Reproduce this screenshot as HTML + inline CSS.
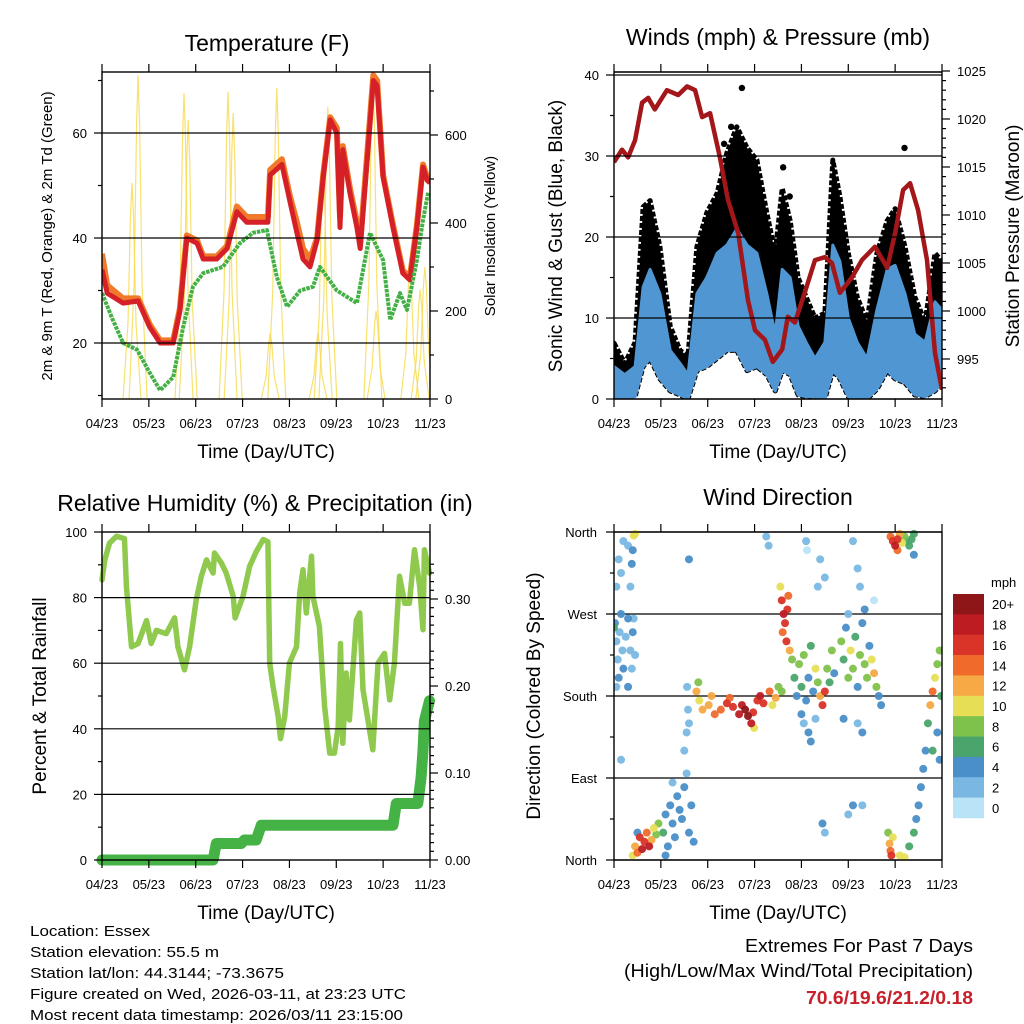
<!DOCTYPE html>
<html><head><meta charset="utf-8"><style>
html,body{margin:0;padding:0;background:#fff;}
svg{display:block;font-family:"Liberation Sans",Arial,sans-serif;}
</style></head><body>
<svg id="root" width="1024" height="1024" viewBox="0 0 1024 1024" xmlns="http://www.w3.org/2000/svg">
<rect width="1024" height="1024" fill="#fff"/>
<g id="p1"></g>
<g id="p2"></g>
<g id="p3"></g>
<g id="p4"></g>
<g font-size="15" fill="#000">
<text x="30" y="936" textLength="120" lengthAdjust="spacingAndGlyphs">Location: Essex</text>
<text x="30" y="957" textLength="189" lengthAdjust="spacingAndGlyphs">Station elevation: 55.5 m</text>
<text x="30" y="978" textLength="254" lengthAdjust="spacingAndGlyphs">Station lat/lon: 44.3144; -73.3675</text>
<text x="30" y="999" textLength="376" lengthAdjust="spacingAndGlyphs">Figure created on Wed, 2026-03-11, at 23:23 UTC</text>
<text x="30" y="1020" textLength="373" lengthAdjust="spacingAndGlyphs">Most recent data timestamp: 2026/03/11 23:15:00</text>
</g>
<g font-size="18">
<text x="745" y="952" textLength="228" lengthAdjust="spacingAndGlyphs">Extremes For Past 7 Days</text>
<text x="624" y="977" textLength="349" lengthAdjust="spacingAndGlyphs">(High/Low/Max Wind/Total Precipitation)</text>
<text x="806" y="1004" textLength="167" lengthAdjust="spacingAndGlyphs" font-weight="bold" fill="#c8202a">70.6/19.6/21.2/0.18</text>
</g>
</svg>
<script>
const NS="http://www.w3.org/2000/svg";
// ---------- shared time axis ----------
const monthLabels=["04/23","05/23","06/23","07/23","08/23","09/23","10/23","11/23"];
const monthTicks=[0,1,2,3,4,5,6,7];
// ---------- temperature data ----------
const tempT=[0,0.11,0.45,0.77,1.02,1.24,1.52,1.66,1.81,2.03,2.16,2.45,2.67,2.88,3.09,3.31,3.54,3.59,3.84,4.01,4.16,4.29,4.44,4.59,4.72,4.87,5.01,5.08,5.14,5.29,5.44,5.51,5.66,5.79,5.87,6.0,6.21,6.42,6.57,6.72,6.85,6.94,7.0];
const tempRed=[34,29.5,27.6,28,23,20,20,26,40,39,36,36,38,45,43,43,43,52,54,47,41,36,34.5,39.6,51.6,62.5,60,42,56.8,48.6,42,38,55,70,69,51.6,42,33.3,32,42,53.5,51,50.5];
const tempOrange=[37,31,28.5,28.5,23.5,20.5,20.5,26.5,40.5,39.5,36.5,36.5,38.5,46,44,44,44,53,55,48,43,38,36,40,52,63,61,44,57.5,49.5,43,39,56,71,70,52,42.5,33.8,32.5,42.5,54,51.5,51];
const dewT=[0,0.23,0.45,0.75,1.02,1.24,1.52,1.73,1.94,2.16,2.58,2.94,3.22,3.52,3.73,3.95,4.23,4.5,4.65,5.01,5.44,5.72,6.0,6.15,6.36,6.51,6.72,6.85,6.96];
const dewV=[29.5,24.4,20,18.7,14.3,11,13.5,23,30.7,33.3,34.5,39,41,41.5,32.6,26.9,30,30.7,34.5,30,27.6,41,35.8,24.4,29.5,26.3,35.8,43.4,48.6];
const solarT=[0.64,0.77,1.75,1.84,2.69,2.80,3.59,3.73,4.61,4.72,4.82,5.78,5.85,6.57,6.79,6.89];
const solarPeak=[491,736,695,634,698,650,150,707,150,540,664,741,200,300,248,300];
const tempTicks=[20,40,60];
const solarTicks=[0,200,400,600];
// ---------- wind data ----------
const presT=[0,0.17,0.30,0.45,0.60,0.73,0.87,1.13,1.37,1.56,1.73,1.88,2.05,2.26,2.43,2.65,2.86,3.01,3.22,3.39,3.59,3.71,3.86,4.07,4.29,4.50,4.65,4.82,5.08,5.29,5.57,5.83,6.00,6.17,6.32,6.49,6.68,6.85,7.0];
const presV=[1015.5,1016.8,1016,1017.8,1021.7,1022.2,1021,1023,1022.5,1023.4,1023,1020.2,1020.6,1016,1011.6,1008.1,1001.1,998,997,994.7,996,999.4,998.8,1001.9,1005.3,1005.6,1005,1001.9,1003.5,1005.3,1006.7,1004.5,1008.1,1012.6,1013.3,1010.5,1005.3,995.6,991.8];
const windT=[0,0.23,0.45,0.62,0.77,0.98,1.20,1.41,1.58,1.77,1.98,2.20,2.41,2.62,2.84,3.05,3.26,3.44,3.59,3.76,3.93,4.10,4.29,4.50,4.67,4.82,5.00,5.19,5.40,5.61,5.83,6.00,6.21,6.42,6.64,6.85,7.0];
const gustHi=[6.9,4.4,7,23.7,24.5,18.8,9,6,5.3,18.8,23,25.4,30.4,33.6,31,29.5,23,18,26,22,15,12.6,10,10.6,29.5,25,18,12.6,9.5,18,22,23.5,18.8,12.6,9.5,18,17];
const windHi=[4,3,4,13.8,16,13,6,4.4,3,13,15,18,19,21,19,18,13,8,16,15,9,7,5,7,19,17,10,7,5,11,16,16.5,13,8,7,12,11];
const windLo=[0.3,0,0.3,4,5,2.5,1,0.5,0,3.5,4,5,6,6,3.5,4,3,1,3.5,3,0.5,0.3,0.3,0,3.5,2.5,0.3,0,0,1.2,3.5,2.5,2,0.5,0.3,1,2];
const gustOutT=[2.73,2.50,3.61,6.20,3.75,2.35];
const gustOutV=[38.4,33.6,28.6,31,25,31.5];
const windTicks=[0,10,20,30,40];
const presTicks=[995,1000,1005,1010,1015,1020,1025];
// ---------- humidity data ----------
const rhT=[0,0.06,0.16,0.31,0.48,0.52,0.63,0.77,0.95,1.05,1.16,1.37,1.55,1.62,1.76,1.87,2.01,2.12,2.23,2.37,2.40,2.55,2.65,2.80,2.84,3.01,3.15,3.29,3.44,3.54,3.58,3.65,3.76,3.81,3.90,4.00,4.15,4.22,4.29,4.36,4.47,4.50,4.64,4.75,4.86,4.96,5.04,5.09,5.14,5.21,5.28,5.43,5.50,5.57,5.78,5.89,6.03,6.14,6.24,6.35,6.46,6.56,6.67,6.78,6.85,6.88,6.99];
const rhV=[85.4,91.5,96.6,98.7,98,83.4,65,66,73,66,70,69,73.8,65,58,65,79.3,86.5,91.5,87.5,93.6,90.5,87.5,80.4,73.8,80.4,89.5,94,97.7,97,60,53,43.7,37,43.7,60,65,81.4,88.5,75.3,92.6,80.4,71.2,46.8,32.6,32.6,40.7,66,35.6,57,42.7,73.2,75.3,51.9,33.6,60,63,48.8,60,86.5,78.3,78.3,94.6,83.4,70.2,94.6,87.5];
const rainT=[0,2.37,2.44,2.97,3.04,3.29,3.40,6.21,6.28,6.74,6.81,6.85,6.88,6.99];
const rainV=[0,0,0.019,0.019,0.023,0.023,0.040,0.040,0.065,0.065,0.095,0.126,0.160,0.183];
const rhTicks=[0,20,40,60,80,100];
const rainTicks=[0,0.1,0.2,0.3];
// ---------- wind direction data ----------
const dirT=[0.02,0.05,0.08,0.1,0.12,0.15,0.18,0.2,0.25,0.3,0.35,0.38,0.4,0.45,0.05,0.3,0.42,0.0,
0.1,0.15,0.3,0.35,0.38,0.4,0.42,0.45,0.05,0.2,
0.45,0.5,0.55,0.6,0.65,0.7,0.75,0.8,0.85,0.9,0.5,0.4,0.95,
1.05,1.1,1.15,1.2,1.25,1.3,1.35,1.4,1.45,1.5,1.55,1.6,1.65,1.7,1.1,1.25,1.5,1.55,1.58,1.6,1.56,
1.76,1.82,1.89,2.02,2.15,2.28,2.41,2.54,2.67,2.73,2.80,2.86,2.93,2.99,3.06,3.12,3.19,3.32,3.45,3.51,3.58,1.80,2.08,2.47,2.97,3.38,
3.55,3.58,3.62,3.65,3.6,3.7,3.68,3.75,3.8,3.72,
3.85,3.9,3.95,4.0,4.05,4.1,4.15,4.2,4.25,4.3,4.35,4.4,4.45,4.5,4.55,4.6,4.65,4.7,4.05,4.15,4.3,4.0,4.2,
4.85,4.9,4.95,5.0,5.05,5.1,5.15,5.2,5.25,5.3,5.35,5.4,5.45,5.5,5.55,5.6,5.65,5.7,5.2,5.3,4.9,5.0,5.35,
3.25,3.3,4.1,4.12,4.4,4.5,4.35,5.1,5.2,5.25,5.55,5.0,5.1,4.45,4.5,5.3,0.15,1.6,
5.9,5.95,6.0,6.05,6.1,6.15,6.2,6.25,6.3,6.35,6.4,6.05,6.4,
5.85,5.88,5.9,5.92,5.95,
6.1,6.2,6.3,6.4,6.45,6.5,6.55,6.6,6.65,6.7,6.75,6.8,6.85,6.9,6.95,6.98,6.9,6.8,6.95];
const dirV=[260,240,220,200,250,270,230,210,245,265,230,210,250,225,190,190,265,255,
330,315,345,300,325,340,356,358,300,350,
15,8,25,12,20,30,15,22,35,28,30,5,40,
30,50,15,60,40,25,70,55,45,80,95,30,60,20,5,85,120,140,165,150,190,
185,175,165,170,160,165,172,168,160,170,165,158,150,145,175,180,172,185,178,190,185,195,180,178,162,170,
300,285,270,260,250,275,240,230,220,290,
200,180,215,190,225,175,200,235,185,210,195,180,170,185,210,195,230,205,150,140,155,160,130,
240,220,255,200,230,210,245,190,225,260,215,200,235,220,205,190,180,170,150,140,155,270,275,
355,345,350,340,330,310,300,350,320,300,285,50,60,40,30,60,110,330,
355,350,345,352,358,348,355,350,345,352,358,340,335,
30,18,10,5,25,
5,3,15,30,45,60,80,100,120,150,170,185,200,215,230,180,140,120,110];
const dirS=[3,2,2,3,2,4,2,3,2,3,2,2,4,2,2,3,2,6,
1,1,2,2,4,3,9,10,1,1,
12,14,16,18,16,14,18,12,10,8,4,10,7,
6,4,4,3,4,3,3,4,3,4,2,4,4,4,3,2,2,2,2,2,1,
12,10,11,12,13,14,15,16,17,18,20,19,18,10,16,17,16,14,12,8,7,8,11,14,15,10,
10,16,18,16,14,16,15,12,8,14,
6,4,8,6,7,3,4,6,3,9,8,12,15,16,7,6,8,4,2,3,2,4,4,
8,6,4,8,10,7,6,4,7,4,7,8,3,10,12,7,4,4,2,4,3,2,3,
1,2,1,0,2,2,1,2,2,1,0,2,4,4,2,2,1,4,
14,16,18,16,12,10,8,6,6,6,5,14,4,
8,12,14,16,10,
10,10,6,6,4,4,4,3,4,6,12,14,10,8,8,6,4,6,4];
const speedColors=["#b9e3f7","#7ab8e3","#4a8fc8","#4aa56c","#7fc24b","#e6df56","#f6a945","#ef6a2b","#da3327","#bd1c22","#8e1518"];
const speedLabels=["0","2","4","6","8","10","12","14","16","18","20+"];
const dirTicks=[0,90,180,270,360];
const dirLabels=["North","East","South","West","North"];

// ---------- helpers ----------
function el(tag,attrs,parent){const e=document.createElementNS(NS,tag);for(const k in attrs)e.setAttribute(k,attrs[k]);parent.appendChild(e);return e;}
function txt(s,attrs,parent){const e=el("text",attrs,parent);e.textContent=s;return e;}
function mkX(x0,x1){return t=>x0+t*(x1-x0)/7;}
function mkY(y0,y1,v0,v1){return v=>y0+(v-v0)*(y1-y0)/(v1-v0);}
function pathD(ts,vs,X,Y){return ts.map((t,i)=>(i?"L":"M")+X(t).toFixed(1)+","+Y(vs[i]).toFixed(1)).join("");}

function frame(g,L,T,R,B,X){
  monthTicks.forEach((m,i)=>{
    const x=X(m);
    const tk=el("line",{x1:x,y1:B,x2:x,y2:B+8,stroke:"#000","stroke-width":1.2},g);
    
    
    const tk2=el("line",{x1:x,y1:T,x2:x,y2:T-8,stroke:"#000","stroke-width":1.2},g);
    
    
    const lb=txt(monthLabels[i],{x:x,y:B+29,"font-size":13,"text-anchor":"middle"},g);
    
    
  });
  const xt=txt("Time (Day/UTC)",{x:(L+R)/2,y:B+59,"font-size":19,"text-anchor":"middle"},g);
  
  
}
function box(g,L,T,R,B){
  const b=el("rect",{x:L,y:T,width:R-L,height:B-T,fill:"none",stroke:"#000","stroke-width":1.4},g);
  
  
}
function hgrid(g,L,R,y){
  const l=el("line",{x1:L,y1:y,x2:R,y2:y,stroke:"#000","stroke-width":1.2},g);
  
  
}
function ytick(g,x,y,dir,len,label,anchor,fs,name){
  const l=el("line",{x1:x,y1:y,x2:x+dir*len,y2:y,stroke:"#000","stroke-width":1.2},g);
  
  
  if(label!==null){
    const t=txt(label,{x:x+dir*(len+7),y:y+5,"font-size":fs||13,"text-anchor":anchor},g);
    
    
  }
}
function vtitle(g,s,x,y,fs,name){
  const t=txt(s,{x:x,y:y,"font-size":fs,"text-anchor":"middle",transform:`rotate(-90 ${x} ${y})`},g);
  
  
}
function title(g,s,x,y,name){
  const t=txt(s,{x:x,y:y,"font-size":23,"text-anchor":"middle"},g);
  
  
}

// ---------- Panel 1: Temperature ----------
(function(){
  const g=document.getElementById("p1");
  const L=102,R=430,T=72,B=399;
  const X=mkX(L,R), Y=mkY(343,133,20,60), YS=mkY(399,135,0,600);
  title(g,"Temperature (F)",267,51,"temperature-title");
  const cp=el("clipPath",{id:"c1"},g); el("rect",{x:L,y:T,width:R-L,height:B-T},cp);
  const d=el("g",{"clip-path":"url(#c1)"},g);
  
  
  solarT.forEach((t,i)=>{
    const x=X(t),p=solarPeak[i];
    const s=el("path",{d:`M${x-9},${YS(0)}L${x-4},${YS(p*0.35)}L${x-1.5},${YS(p*0.85)}L${x},${YS(p)}L${x+1.5},${YS(p*0.85)}L${x+4},${YS(p*0.35)}L${x+9},${YS(0)}`,fill:"none",stroke:"#f7dc55","stroke-width":1.2,opacity:0.85},d);
    
    
  });
  const o=el("path",{d:pathD(tempT,tempOrange,X,Y),fill:"none",stroke:"#f07a2a","stroke-width":6,"stroke-linejoin":"round"},d);
  
  
  const r=el("path",{d:pathD(tempT,tempRed,X,Y),fill:"none",stroke:"#d42026","stroke-width":5,"stroke-linejoin":"round"},d);
  
  
  const gr=el("path",{d:pathD(dewT,dewV,X,Y),fill:"none",stroke:"#42b044","stroke-width":4,"stroke-dasharray":"3.5 1","stroke-linejoin":"round"},d);
  
  
  tempTicks.forEach(v=>{hgrid(g,L,R,Y(v));ytick(g,L,Y(v),-1,8,String(v),"end",13,"temperature");});
  [10,30,50,70].forEach(v=>ytick(g,L,Y(v),-1,4,null,"end",13,"temperature-minor"));
  solarTicks.forEach(v=>ytick(g,R,YS(v),1,8,String(v),"start",13,"solar"));
  [100,300,500,700].forEach(v=>ytick(g,R,YS(v),1,4,null,"start",13,"solar-minor"));
  box(g,L,T,R,B);
  frame(g,L,T,R,B,X);
  vtitle(g,"2m & 9m T (Red, Orange) & 2m Td (Green)",52,236,15,"temperature-y-axis-title");
  vtitle(g,"Solar Insolation (Yellow)",495,236,15,"solar-y-axis-title");
})();

// ---------- Panel 2: Winds ----------
(function(){
  const g=document.getElementById("p2");
  const L=614,R=942,T=72,B=399;
  const X=mkX(L,R), Y=mkY(399,75,0,40), YP=mkY(71,359,1025,995);
  title(g,"Winds (mph) & Pressure (mb)",778,45,"winds-title");
  const cp=el("clipPath",{id:"c2"},g); el("rect",{x:L,y:T,width:R-L,height:B-T},cp);
  const d=el("g",{"clip-path":"url(#c2)"},g);
  
  
  const area=(hi,lo)=>{let s="M"+windT.map((t,i)=>X(t).toFixed(1)+","+Y(hi[i]).toFixed(1)).join("L");
    for(let i=windT.length-1;i>=0;i--)s+="L"+X(windT[i]).toFixed(1)+","+Y(lo[i]).toFixed(1);return s+"Z";};
  const ga=el("path",{d:area(gustHi,windLo),fill:"#000",stroke:"#000","stroke-width":5,"stroke-linejoin":"round","stroke-dasharray":"5 2"},d);
  
  
  const wa=el("path",{d:area(windHi,windLo),fill:"#4f96d2",stroke:"#4f96d2","stroke-width":3,"stroke-linejoin":"round"},d);
  
  
  gustOutT.forEach((t,i)=>{
    const c=el("circle",{cx:X(t),cy:Y(gustOutV[i]),r:3.2,fill:"#000"},d);
    
    
  });
  windTicks.forEach(v=>{hgrid(g,L,R,Y(v));ytick(g,L,Y(v),-1,8,String(v),"end",13,"wind");});
  [5,15,25,35].forEach(v=>ytick(g,L,Y(v),-1,4,null,"end",13,"wind-minor"));
  hgrid(g,L,R,72);
  const pl=el("path",{d:pathD(presT,presV,X,YP),fill:"none",stroke:"#a3161a","stroke-width":4.5,"stroke-linejoin":"round"},d);
  
  
  presTicks.forEach(v=>ytick(g,R,YP(v),1,8,String(v),"start",13,"pressure"));
  for(let v=992;v<1025;v++){if(v%5)ytick(g,R,YP(v),1,4,null,"start",13,"pressure-minor");}
  box(g,L,T,R,B);
  frame(g,L,T,R,B,X);
  vtitle(g,"Sonic Wind & Gust (Blue, Black)",562,236,19,"wind-y-axis-title");
  vtitle(g,"Station Pressure (Maroon)",1019,236,19,"pressure-y-axis-title");
})();

// ---------- Panel 3: RH & Precip ----------
(function(){
  const g=document.getElementById("p3");
  const L=102,R=430,T=532,B=860;
  const X=mkX(L,R), Y=mkY(860,532,0,100), YR=mkY(860,773,0,0.1);
  title(g,"Relative Humidity (%) & Precipitation (in)",265,511,"humidity-title");
  const cp=el("clipPath",{id:"c3"},g); el("rect",{x:L-8,y:T,width:R-L+16,height:B-T+8},cp);
  const d=el("g",{"clip-path":"url(#c3)"},g);
  
  
  rhTicks.forEach(v=>{if(v>0&&v<100)hgrid(g,L,R,Y(v));});
  const rh=el("path",{d:pathD(rhT,rhV,X,Y),fill:"none",stroke:"#8fca4e","stroke-width":5.5,"stroke-linejoin":"round","stroke-linecap":"round"},d);
  
  
  const rn=el("path",{d:pathD(rainT,rainV,X,YR),fill:"none",stroke:"#44b244","stroke-width":11,"stroke-linejoin":"round","stroke-linecap":"round"},d);
  
  
  rhTicks.forEach(v=>ytick(g,L,Y(v),-1,8,String(v),"end",13,"humidity"));
  [10,30,50,70,90].forEach(v=>ytick(g,L,Y(v),-1,4,null,"end",13,"humidity-minor"));
  rainTicks.forEach(v=>ytick(g,R,YR(v),1,8,v.toFixed(2),"start",13,"rain"));
  for(let k=1;k<36;k++){if(k%5)ytick(g,R,YR(k*0.01),1,4,null,"start",13,"rain-minor");}
  box(g,L,T,R,B);
  frame(g,L,T,R,B,X);
  vtitle(g,"Percent & Total Rainfall",46,696,19,"humidity-y-axis-title");
})();

// ---------- Panel 4: Wind Direction ----------
(function(){
  const g=document.getElementById("p4");
  const L=614,R=942,T=532,B=860;
  const X=mkX(L,R), Y=mkY(860,532,0,360);
  title(g,"Wind Direction",778,505,"wind-direction-title");
  dirTicks.forEach((v,i)=>{hgrid(g,L-8,R,Y(v));
    const t=txt(dirLabels[i],{x:L-17,y:Y(v)+5,"font-size":13,"text-anchor":"end"},g);
    
    });
  [45,135,225,315].forEach(v=>ytick(g,L,Y(v),-1,4,null,"end",13,"direction-minor"));
  const cp=el("clipPath",{id:"c4"},g); el("rect",{x:L,y:T-5,width:R-L,height:B-T+10},cp);
  const d=el("g",{"clip-path":"url(#c4)"},g);
  
  
  const order=dirT.map((t,i)=>i).sort((a,b)=>dirS[a]-dirS[b]);
  order.forEach(i=>{
    const ci=Math.min(10,Math.max(0,Math.round(dirS[i]/2)));
    const c=el("circle",{cx:X(dirT[i]),cy:Y(dirV[i]),r:4,fill:speedColors[ci],opacity:0.95},d);
    
    
  });
  box(g,L,T,R,B);
  frame(g,L,T,R,B,X);
  vtitle(g,"Direction (Colored By Speed)",540,696,19,"direction-y-axis-title");
  const cb=el("g",{},g);
  
  
  const h=20.36, top=594;
  for(let k=0;k<11;k++){
    const ci=10-k;
    const r=el("rect",{x:953,y:top+k*h,width:31,height:h+0.3,fill:speedColors[ci]},cb);
    
    
    const t=txt(speedLabels[ci],{x:992,y:top+k*h+h/2+5,"font-size":13},cb);
    
    
  }
  const u=txt("mph",{x:991,y:587,"font-size":13},cb);
  
  
})();
</script>
</body></html>
